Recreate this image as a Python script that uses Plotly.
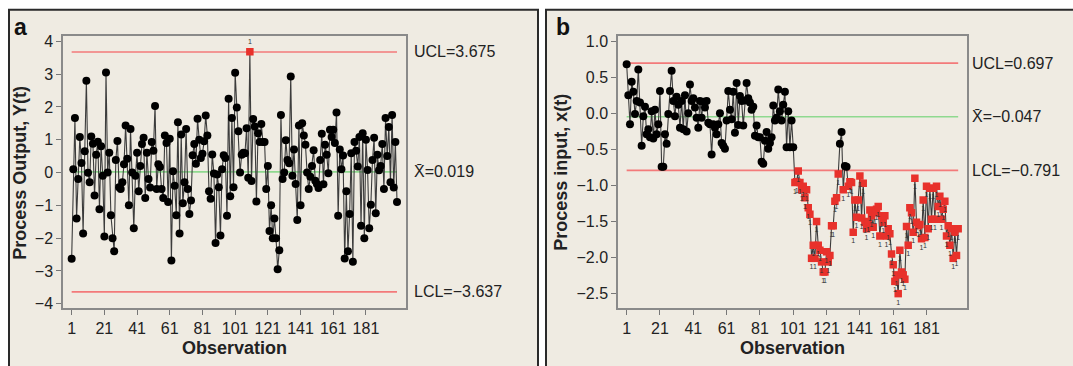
import plotly.graph_objects as go

# ---------------- data ----------------
obs_tick_vals = [1, 21, 41, 61, 81, 101, 121, 141, 161, 181]

y_output = [
    -2.63, 0.10, 1.66, -1.40, -0.20, 1.08, 0.29, -1.86, 0.65, 2.80,
    -0.01, -0.30, 1.10, 0.88, -0.70, 0.54, 0.94, -1.12, 0.80, -0.10,
    -1.95, 3.05, 0.00, 0.60, -1.30, -2.00, -2.40, 0.38, 0.96, -0.45,
    -0.50, -0.30, 0.25, 1.43, 0.42, -1.00, 1.33, 0.00, -1.70, -0.10,
    0.60, -0.57, 0.20, 0.87, 1.06, -0.78, 0.60, -0.20, -0.46, 0.93,
    0.66, 2.03, -0.50, 0.25, 0.17, -0.50, -0.78, 1.13, 0.90, -0.90,
    1.03, -2.68, 0.04, -0.40, -1.30, 1.53, -1.86, 1.16, -0.94, -0.30,
    1.33, -0.50, -1.26, -0.85, 0.53, 0.87, 0.27, 1.64, 1.00, 0.44,
    0.57, 0.95, 1.74, 1.13, -0.57, -0.80, 0.55, -0.03, -2.15, -0.06,
    -0.45, -1.92, 0.10, 0.53, 0.44, -1.32, 2.25, -0.72, 1.66, -0.45,
    3.04, 1.98, 1.26, 0.00, 0.54, 0.60, 0.59, 1.35, -0.16, 3.68,
    -0.26, 1.63, 1.40, -0.88, 1.20, 0.93, 1.48, 0.93, 0.93, -0.50,
    0.20, -1.78, -1.00, -2.00, -1.40, -2.00, -2.95, -2.37, 1.75, -0.20,
    0.00, 0.98, 0.38, 0.28, 2.93, -0.10, 0.70, -0.35, -1.45, 1.43,
    -1.00, 1.50, 1.13, 0.85, 0.00, -0.50, -0.13, 0.20, 0.68, -0.25,
    -0.35, -0.47, 0.38, 1.18, -0.36, 0.85, 0.54, -0.02, 1.30, 1.08,
    1.30, 0.90, 1.83, -1.32, 0.70, 0.10, 0.52, -2.62, -0.57, -2.40,
    -1.26, 0.59, -2.72, 0.93, 0.66, 0.18, 1.08, -1.62, 1.20, -2.00,
    1.00, 0.08, -1.70, -0.98, 0.38, 1.06, -1.24, 0.54, 0.07, 0.20,
    0.87, -0.50, 1.66, 0.50, 1.39, -0.30, 1.75, -0.46, 0.93, -0.90,
]
ucl_a, center_a, lcl_a = 3.675, 0.019, -3.637

x_input = [
    0.68, 0.25, -0.15, 0.44, 0.30, -0.01, 0.17, 0.61, 0.15, -0.45,
    -0.04, 0.09, -0.29, -0.22, -0.33, 0.03, -0.35, 0.05, -0.29, -0.15,
    0.31, -0.74, -0.74, -0.29, -0.42, -0.01, 0.31, 0.59, 0.17, -0.04,
    0.23, 0.12, -0.20, 0.17, -0.22, 0.25, -0.25, 0.00, 0.40, 0.17,
    0.21, 0.08, -0.06, -0.20, 0.17, -0.06, 0.16, 0.08, 0.17, -0.13,
    -0.15, -0.57, -0.15, -0.20, -0.29, -0.15, 0.00, -0.41, -0.45, -0.49,
    -0.10, 0.31, 0.05, -0.08, 0.30, -0.27, 0.42, -0.16, 0.24, 0.17,
    -0.17, 0.18, 0.42, 0.21, 0.15, 0.05, 0.09, -0.31, -0.17, -0.33,
    -0.33, -0.67, -0.70, -0.38, -0.26, -0.49, -0.41, -0.33, 0.11, -0.10,
    -0.06, 0.33, 0.03, -0.10, 0.12, 0.30, -0.47, 0.03, -0.47, -0.10,
    -0.47, -0.96, -0.95, -0.80, -0.96, -1.06, -1.01, -1.17, -1.06, -1.31,
    -1.40, -2.01, -1.83, -2.01, -1.50, -1.83, -1.90, -2.06, -2.20, -2.20,
    -1.92, -2.06, -1.97, -1.56, -1.56, -1.22, -1.17, -0.84, -0.42, -0.26,
    -1.06, -0.73, -0.74, -1.01, -0.95, -0.96, -1.65, -1.20, -1.44, -1.20,
    -0.87, -1.45, -0.97, -1.51, -1.60, -1.50, -1.34, -1.42, -1.58, -1.38,
    -1.33, -1.29, -1.70, -1.42, -1.51, -1.42, -1.70, -1.60, -1.67, -1.95,
    -2.10, -2.33, -2.24, -2.50, -1.90, -2.20, -2.24, -2.30, -1.57, -1.83,
    -1.31, -1.38, -1.65, -0.90, -1.51, -1.56, -1.54, -1.74, -1.20, -1.72,
    -1.01, -1.60, -1.04, -1.47, -1.04, -1.47, -1.01, -1.29, -1.15, -1.47,
    -1.33, -1.22, -1.70, -1.56, -1.83, -1.60, -2.01, -1.65, -1.97, -1.60,
]
ucl_b, center_b, lcl_b = 0.697, -0.047, -0.791

# ---------------- figure ----------------
W, H = 1073, 366
FONT = "Liberation Sans, Arial, sans-serif"
LINE_COL = "#3c3c3c"
RED = "#e8312b"
UCL_COL = "#f37a7a"
CL_COL = "#8fd98f"


def px_x(p):
    return p / W


def px_y(p):
    return 1 - p / H


fig = go.Figure()


def add_panel(vals, ucl, cl, lcl, xa, ya, label_pos):
    n = len(vals)
    xs = list(range(1, n + 1))
    for v, c in ((ucl, UCL_COL), (lcl, UCL_COL), (cl, CL_COL)):
        fig.add_trace(go.Scatter(x=[1, n], y=[v, v], mode="lines",
                                 line=dict(color=c, width=1.6),
                                 xaxis=xa, yaxis=ya, hoverinfo="skip"))
    fig.add_trace(go.Scatter(x=xs, y=vals, mode="lines",
                             line=dict(color=LINE_COL, width=1.1),
                             xaxis=xa, yaxis=ya, hoverinfo="skip"))
    ok_x = [x for x, v in zip(xs, vals) if lcl <= v <= ucl]
    ok_y = [v for v in vals if lcl <= v <= ucl]
    bad_x = [x for x, v in zip(xs, vals) if not (lcl <= v <= ucl)]
    bad_y = [v for v in vals if not (lcl <= v <= ucl)]
    fig.add_trace(go.Scatter(x=ok_x, y=ok_y, mode="markers",
                             marker=dict(color="black", size=8, symbol="circle"),
                             xaxis=xa, yaxis=ya, hoverinfo="skip"))
    fig.add_trace(go.Scatter(x=bad_x, y=bad_y, mode="markers+text",
                             marker=dict(color=RED, size=7.5, symbol="square"),
                             text=["1"] * len(bad_x), textposition=label_pos,
                             textfont=dict(size=7, color="#333", family=FONT),
                             xaxis=xa, yaxis=ya, hoverinfo="skip"))


add_panel(y_output, ucl_a, center_a, lcl_a, "x", "y", "top center")
add_panel(x_input, ucl_b, center_b, lcl_b, "x2", "y2", "bottom center")

axis_common = dict(showgrid=False, zeroline=False, showline=True, mirror=True,
                   linecolor="#8a8a8a", linewidth=1.5, ticks="outside",
                   ticklen=5, tickcolor="#777", tickwidth=1,
                   tickfont=dict(family=FONT, size=16, color="#222"))

ydom = [px_y(311), px_y(34)]
fig.update_layout(
    width=W, height=H, autosize=False,
    margin=dict(l=0, r=0, t=0, b=0),
    paper_bgcolor="white", plot_bgcolor="white",
    showlegend=False,
    xaxis=dict(domain=[px_x(63), px_x(406)], range=[-4.3, 205.5],
               tickvals=obs_tick_vals, anchor="y", **axis_common),
    yaxis=dict(domain=ydom, range=[-4.13, 4.15], tickvals=list(range(-4, 5)),
               anchor="x", **axis_common),
    xaxis2=dict(domain=[px_x(618), px_x(967)], range=[-4.2, 205.3],
                tickvals=obs_tick_vals, anchor="y2", **axis_common),
    yaxis2=dict(domain=ydom, range=[-2.70, 1.068],
                tickvals=[1.0, 0.5, 0.0, -0.5, -1.0, -1.5, -2.0, -2.5],
                tickformat=".1f", anchor="x2", **axis_common),
)

# panel frames
for x0, x1 in ((9, 538), (546, 1080)):
    fig.add_shape(type="rect", xref="paper", yref="paper",
                  x0=px_x(x0), x1=px_x(x1), y0=px_y(372), y1=px_y(7),
                  fillcolor="#efebe2", line=dict(color="#2a2a2a", width=2),
                  layer="below")

ann = []
txt = dict(family=FONT, size=16, color="#222")
bold = dict(family=FONT, size=18, color="#222")
# panel letters
ann.append(dict(x=px_x(12), y=px_y(24), text="<b>a</b>", xanchor="left", yanchor="middle",
                font=dict(family=FONT, size=23, color="#111")))
ann.append(dict(x=px_x(554), y=px_y(24), text="<b>b</b>", xanchor="left", yanchor="middle",
                font=dict(family=FONT, size=23, color="#111")))
# axis titles
ann.append(dict(x=px_x(234), y=px_y(352), text="<b>Observation</b>", xanchor="center",
                yanchor="middle", font=bold))
ann.append(dict(x=px_x(792), y=px_y(352), text="<b>Observation</b>", xanchor="center",
                yanchor="middle", font=bold))
ann.append(dict(x=px_x(20), y=px_y(173), text="<b>Process Output, Y(t)</b>", textangle=-90,
                xanchor="center", yanchor="middle", font=bold))
ann.append(dict(x=px_x(561), y=px_y(173), text="<b>Process input, x(t)</b>", textangle=-90,
                xanchor="center", yanchor="middle", font=bold))
for a in ann:
    a.update(xref="paper", yref="paper", showarrow=False)

# control-limit labels
for xa, ya, ucl, cl, lcl, xpos in (("x", "y", ucl_a, center_a, lcl_a, 412),
                                    ("x2", "y2", ucl_b, center_b, lcl_b, 970)):
    for v, label in ((ucl, f"UCL={ucl:.3f}"),
                     (cl, f"X\u0304={cl:.3f}"),
                     (lcl, f"LCL={lcl:.3f}")):
        ann.append(dict(xref="paper", yref=ya, x=px_x(xpos), y=v,
                        text=label.replace("-", "\u2212"), showarrow=False,
                        xanchor="left", yanchor="middle", font=txt))

fig.update_layout(annotations=ann)
fig.write_html("out.html")
